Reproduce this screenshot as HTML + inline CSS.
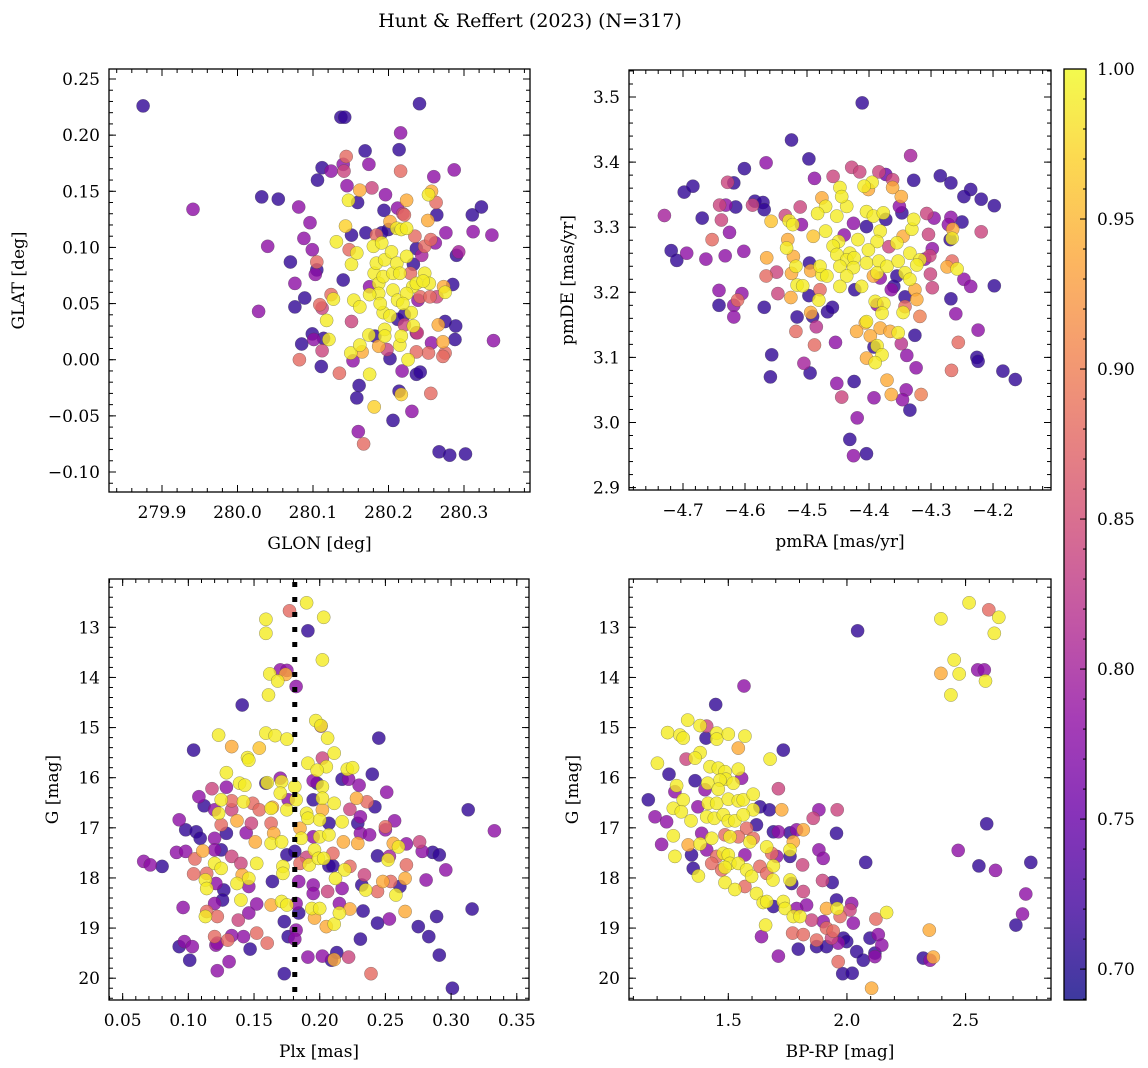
<!DOCTYPE html>
<html><head><meta charset="utf-8"><style>
html,body{margin:0;padding:0;background:#fff;}
svg{display:block;font-family:"DejaVu Serif","Liberation Serif",serif;}
</style></head><body>
<svg id="fig" width="1148" height="1068" viewBox="0 0 1148 1068" xmlns="http://www.w3.org/2000/svg">
<text x="530" y="27" font-size="19" text-anchor="middle">Hunt &amp; Reffert (2023) (N=317)</text>
</svg>
<script>
// ---- Panel 1: GLON vs GLAT ----
const p1Glon=[279.875,279.941,280.028,280.032,280.054,280.040,280.070,280.081,280.096,280.088,280.099,280.076,280.076,280.089,280.082,280.085,280.099,280.101,280.111,280.112,280.114,280.121,280.118,280.112,280.109,280.105,280.103,280.105,280.106,280.112,280.124,280.124,280.127,280.131,280.135,280.137,280.142,280.144,280.140,280.141,280.145,280.140,280.143,280.147,280.151,280.148,280.151,280.151,280.150,280.153,280.161,280.158,280.160,280.167,280.158,280.154,280.162,280.162,280.159,280.162,280.165,280.174,280.175,280.181,280.178,280.174,280.169,280.181,280.175,280.184,280.180,280.184,280.191,280.187,280.187,280.175,280.193,280.195,280.193,280.189,280.182,280.187,280.195,280.195,280.198,280.202,280.202,280.196,280.194,280.202,280.200,280.204,280.206,280.206,280.211,280.215,280.212,280.211,280.217,280.224,280.212,280.224,280.221,280.219,280.216,280.214,280.216,280.241,280.224,280.233,280.229,280.232,280.224,280.230,280.221,280.212,280.219,280.215,280.217,280.221,280.233,280.238,280.239,280.237,280.248,280.254,280.246,280.242,280.255,280.264,280.273,280.275,280.285,280.244,280.248,280.237,280.262,280.256,280.235,280.252,280.264,280.253,280.257,280.263,280.260,280.287,280.276,280.311,280.323,280.312,280.337,280.293,280.290,280.339,280.289,280.288,280.275,280.266,280.272,280.275,280.272,280.257,280.253,280.237,280.237,280.226,280.218,280.237,280.242,280.256,280.214,280.217,280.231,280.206,280.267,280.281,280.302,280.191,280.170];
const p1Glat=[0.226,0.134,0.043,0.145,0.143,0.101,0.087,0.136,0.122,0.108,0.098,0.068,0.047,0.055,0.000,0.014,0.023,0.018,-0.006,0.008,0.019,0.018,0.035,0.046,0.049,0.087,0.076,0.080,0.160,0.171,0.168,0.058,0.054,0.105,-0.012,0.216,0.216,0.181,0.174,0.168,0.155,0.071,0.119,0.142,0.111,0.098,0.085,0.034,0.006,-0.001,-0.023,-0.034,-0.064,-0.075,0.095,0.053,0.047,0.151,0.140,0.013,0.007,0.022,-0.013,-0.042,0.153,0.174,0.186,0.077,0.065,0.111,0.101,0.086,0.104,0.068,0.059,0.058,0.074,0.089,0.042,0.050,0.021,0.012,0.027,0.021,0.009,0.001,0.039,0.147,0.133,0.123,0.116,0.096,0.077,0.062,0.086,0.077,0.053,0.117,0.116,0.117,0.135,0.142,0.129,0.130,0.168,0.187,0.202,0.228,0.092,0.085,0.077,0.065,0.059,0.042,0.040,0.036,0.050,0.013,0.021,0.031,0.030,0.024,0.053,0.068,0.077,0.068,0.070,0.056,0.056,0.056,0.065,0.060,0.067,0.093,0.101,0.099,0.104,0.107,0.110,0.124,0.129,0.147,0.150,0.140,0.163,0.169,0.113,0.129,0.136,0.114,0.111,0.096,0.093,0.017,0.030,0.018,0.034,0.031,0.016,0.006,0.003,0.015,0.006,0.007,0.024,0.000,-0.010,-0.013,-0.011,-0.030,-0.028,-0.031,-0.046,-0.054,-0.082,-0.085,-0.084,0.113,0.113];
const p1Prob=[0.71,0.78,0.78,0.71,0.71,0.78,0.71,0.78,0.78,0.78,0.78,0.78,0.71,0.71,0.88,0.71,0.71,0.78,0.71,0.84,0.71,0.99,0.99,0.84,0.88,0.88,0.78,0.71,0.71,0.71,0.78,0.88,0.99,0.99,0.88,0.71,0.71,0.88,0.78,0.84,0.78,0.71,0.97,0.99,0.71,0.88,0.99,0.84,0.99,0.78,0.71,0.71,0.78,0.88,0.99,0.99,0.99,0.94,0.71,0.99,0.94,0.99,0.99,0.97,0.84,0.78,0.71,0.99,0.78,0.88,0.99,0.99,0.99,0.99,0.99,0.99,0.99,0.99,0.99,0.99,0.71,0.94,0.99,0.99,0.84,0.71,0.99,0.78,0.71,0.94,0.71,0.99,0.99,0.99,0.99,0.99,0.99,0.99,0.99,0.99,0.78,0.94,0.88,0.84,0.88,0.71,0.78,0.71,0.99,0.71,0.88,0.99,0.99,0.99,0.71,0.71,0.99,0.99,0.99,0.84,0.99,0.84,0.78,0.99,0.99,0.99,0.99,0.88,0.88,0.84,0.94,0.99,0.71,0.80,0.88,0.71,0.78,0.88,0.88,0.94,0.71,0.99,0.94,0.88,0.78,0.78,0.78,0.71,0.71,0.78,0.78,0.80,0.71,0.78,0.71,0.71,0.71,0.94,0.94,0.88,0.88,0.78,0.88,0.88,0.78,0.99,0.78,0.71,0.71,0.88,0.71,0.97,0.78,0.71,0.71,0.71,0.71,0.71,0.71];
// ---- Panel 2: pmRA vs pmDE ----
const p2Pmra=[-4.730,-4.698,-4.684,-4.669,-4.719,-4.710,-4.694,-4.663,-4.653,-4.638,-4.641,-4.631,-4.615,-4.628,-4.618,-4.601,-4.566,-4.625,-4.632,-4.602,-4.588,-4.584,-4.571,-4.569,-4.558,-4.535,-4.529,-4.523,-4.509,-4.511,-4.525,-4.497,-4.488,-4.458,-4.447,-4.428,-4.415,-4.411,-4.384,-4.373,-4.362,-4.395,-4.408,-4.401,-4.362,-4.333,-4.328,-4.285,-4.268,-4.236,-4.247,-4.219,-4.198,-4.219,-4.250,-4.268,-4.272,-4.269,-4.265,-4.266,-4.295,-4.307,-4.304,-4.298,-4.302,-4.266,-4.274,-4.258,-4.301,-4.298,-4.247,-4.236,-4.198,-4.268,-4.260,-4.224,-4.256,-4.226,-4.224,-4.267,-4.184,-4.164,-4.318,-4.326,-4.339,-4.324,-4.348,-4.340,-4.346,-4.334,-4.316,-4.364,-4.371,-4.392,-4.424,-4.452,-4.444,-4.419,-4.431,-4.425,-4.404,-4.557,-4.559,-4.505,-4.495,-4.488,-4.454,-4.485,-4.518,-4.516,-4.494,-4.491,-4.467,-4.459,-4.481,-4.497,-4.526,-4.547,-4.569,-4.642,-4.642,-4.618,-4.612,-4.605,-4.618,-4.566,-4.549,-4.565,-4.516,-4.518,-4.525,-4.533,-4.522,-4.531,-4.507,-4.496,-4.494,-4.479,-4.476,-4.479,-4.490,-4.476,-4.470,-4.483,-4.470,-4.452,-4.436,-4.444,-4.449,-4.458,-4.452,-4.440,-4.431,-4.436,-4.424,-4.447,-4.468,-4.425,-4.436,-4.447,-4.423,-4.412,-4.425,-4.418,-4.404,-4.393,-4.377,-4.373,-4.404,-4.382,-4.387,-4.401,-4.404,-4.384,-4.387,-4.371,-4.368,-4.355,-4.345,-4.331,-4.347,-4.348,-4.351,-4.328,-4.334,-4.318,-4.310,-4.323,-4.353,-4.355,-4.342,-4.334,-4.360,-4.382,-4.393,-4.364,-4.326,-4.342,-4.323,-4.342,-4.345,-4.390,-4.376,-4.387,-4.379,-4.404,-4.406,-4.420,-4.382,-4.366,-4.353,-4.398,-4.387,-4.392,-4.379,-4.404,-4.390,-4.392];
const p2Pmde=[3.318,3.354,3.363,3.314,3.264,3.249,3.260,3.251,3.281,3.311,3.334,3.334,3.331,3.369,3.368,3.390,3.399,3.292,3.256,3.263,3.334,3.340,3.338,3.327,3.309,3.318,3.310,3.304,3.304,3.331,3.434,3.405,3.375,3.378,3.361,3.392,3.385,3.491,3.385,3.381,3.373,3.369,3.363,3.358,3.361,3.410,3.372,3.379,3.368,3.358,3.347,3.343,3.333,3.293,3.308,3.315,3.304,3.281,3.297,3.283,3.314,3.321,3.289,3.267,3.256,3.248,3.239,3.236,3.228,3.207,3.220,3.209,3.210,3.190,3.167,3.142,3.123,3.100,3.094,3.080,3.079,3.066,3.163,3.134,3.103,3.084,3.121,3.050,3.035,3.019,3.043,3.043,3.065,3.038,3.063,3.060,3.039,3.007,2.974,2.949,2.952,3.104,3.070,3.091,3.076,3.119,3.123,3.147,3.140,3.162,3.169,3.163,3.170,3.177,3.188,3.195,3.192,3.198,3.177,3.180,3.203,3.180,3.188,3.198,3.162,3.225,3.231,3.253,3.211,3.240,3.229,3.268,3.255,3.281,3.210,3.245,3.233,3.204,3.227,3.240,3.286,3.345,3.332,3.321,3.294,3.317,3.332,3.347,3.278,3.271,3.258,3.288,3.260,3.250,3.253,3.240,3.225,3.238,3.225,3.209,3.204,3.209,3.306,3.281,3.324,3.317,3.322,3.312,3.301,3.294,3.278,3.265,3.245,3.248,3.230,3.240,3.270,3.276,3.286,3.297,3.322,3.347,3.332,3.312,3.260,3.250,3.251,3.242,3.248,3.225,3.230,3.220,3.209,3.222,3.225,3.204,3.204,3.193,3.189,3.178,3.169,3.186,3.183,3.181,3.168,3.155,3.153,3.140,3.145,3.140,3.138,3.133,3.118,3.116,3.104,3.099,3.092,3.095];
const p2Prob=[0.80,0.71,0.71,0.71,0.71,0.71,0.78,0.78,0.88,0.84,0.84,0.78,0.71,0.84,0.71,0.71,0.78,0.78,0.78,0.78,0.84,0.71,0.71,0.71,0.96,0.84,0.99,0.99,0.78,0.84,0.71,0.71,0.78,0.84,0.99,0.84,0.84,0.71,0.84,0.75,0.84,0.99,0.99,0.94,0.94,0.80,0.71,0.71,0.71,0.71,0.71,0.71,0.71,0.84,0.71,0.78,0.78,0.71,0.94,0.99,0.78,0.84,0.84,0.78,0.84,0.88,0.94,0.99,0.84,0.84,0.78,0.78,0.71,0.71,0.78,0.78,0.88,0.71,0.71,0.88,0.71,0.71,0.90,0.71,0.78,0.78,0.82,0.78,0.78,0.71,0.90,0.94,0.94,0.78,0.71,0.78,0.84,0.78,0.71,0.78,0.71,0.71,0.71,0.80,0.71,0.88,0.78,0.82,0.88,0.71,0.94,0.71,0.71,0.71,0.99,0.71,0.94,0.84,0.71,0.71,0.78,0.78,0.88,0.78,0.78,0.88,0.84,0.94,0.99,0.99,0.94,0.99,0.94,0.94,0.99,0.71,0.94,0.88,0.99,0.99,0.96,0.94,0.99,0.99,0.99,0.99,0.99,0.99,0.99,0.99,0.99,0.78,0.99,0.99,0.99,0.99,0.99,0.99,0.99,0.99,0.71,0.99,0.78,0.99,0.99,0.99,0.99,0.71,0.71,0.99,0.99,0.99,0.99,0.99,0.99,0.99,0.84,0.99,0.94,0.99,0.71,0.94,0.78,0.99,0.99,0.99,0.78,0.99,0.99,0.71,0.99,0.99,0.71,0.78,0.94,0.78,0.94,0.71,0.94,0.88,0.99,0.99,0.99,0.78,0.99,0.99,0.94,0.94,0.94,0.94,0.99,0.94,0.99,0.71,0.99,0.94,0.99];
// ---- Panel 3: Plx vs G ----
const p3Plx=[0.190,0.177,0.159,0.203,0.159,0.191,0.202,0.162,0.168,0.170,0.175,0.174,0.182,0.161,0.141,0.197,0.201,0.201,0.206,0.159,0.166,0.175,0.123,0.133,0.154,0.145,0.146,0.104,0.245,0.211,0.191,0.202,0.205,0.198,0.221,0.225,0.222,0.217,0.230,0.240,0.251,0.129,0.139,0.143,0.129,0.118,0.108,0.112,0.125,0.133,0.142,0.149,0.120,0.123,0.133,0.137,0.154,0.159,0.160,0.170,0.171,0.170,0.181,0.182,0.163,0.164,0.175,0.176,0.190,0.191,0.195,0.198,0.202,0.202,0.195,0.211,0.202,0.200,0.207,0.217,0.228,0.236,0.242,0.223,0.231,0.229,0.231,0.257,0.250,0.250,0.093,0.098,0.106,0.109,0.129,0.144,0.148,0.151,0.120,0.125,0.163,0.165,0.163,0.171,0.185,0.186,0.195,0.200,0.207,0.218,0.229,0.238,0.260,0.256,0.266,0.276,0.278,0.286,0.291,0.296,0.313,0.333,0.066,0.071,0.080,0.091,0.098,0.111,0.105,0.120,0.125,0.133,0.140,0.120,0.125,0.104,0.114,0.113,0.114,0.121,0.137,0.141,0.146,0.152,0.146,0.164,0.172,0.172,0.175,0.181,0.185,0.190,0.192,0.196,0.199,0.203,0.210,0.207,0.210,0.219,0.223,0.212,0.184,0.195,0.206,0.217,0.234,0.244,0.253,0.252,0.266,0.265,0.254,0.248,0.232,0.235,0.244,0.258,0.261,0.281,0.195,0.096,0.127,0.126,0.140,0.120,0.114,0.113,0.122,0.138,0.146,0.152,0.163,0.171,0.175,0.182,0.184,0.194,0.200,0.196,0.205,0.211,0.215,0.215,0.223,0.233,0.244,0.253,0.265,0.289,0.275,0.283,0.316,0.173,0.176,0.182,0.181,0.152,0.160,0.147,0.142,0.133,0.130,0.120,0.121,0.122,0.097,0.093,0.103,0.101,0.122,0.131,0.173,0.191,0.202,0.209,0.213,0.211,0.222,0.231,0.239,0.291,0.301];
const p3G=[12.51,12.67,12.84,12.80,13.12,13.07,13.65,13.93,14.07,13.85,13.86,13.94,14.18,14.35,14.55,14.86,14.96,14.97,15.21,15.11,15.16,15.23,15.15,15.38,15.41,15.60,15.65,15.45,15.21,15.51,15.71,15.61,15.78,15.85,15.83,15.80,16.03,16.03,16.15,15.93,16.29,15.90,16.11,16.15,16.19,16.22,16.38,16.56,16.44,16.46,16.48,16.51,16.64,16.71,16.64,16.86,16.64,16.11,16.10,16.01,16.08,16.31,16.18,16.44,16.61,16.59,16.64,16.44,16.71,16.81,16.06,16.11,16.18,16.41,16.44,16.51,16.64,16.84,16.91,16.88,16.41,16.48,16.58,16.63,16.78,16.91,17.11,16.86,16.98,17.04,16.84,17.04,17.08,17.21,17.11,17.10,16.91,17.28,17.21,16.94,16.91,17.11,17.31,17.28,17.01,17.21,17.18,17.18,17.14,17.28,17.31,17.14,17.38,17.31,17.32,17.28,17.47,17.49,17.54,17.84,16.64,17.06,17.67,17.74,17.77,17.49,17.47,17.46,17.62,17.44,17.44,17.57,17.71,17.71,17.81,17.92,17.91,18.04,18.21,18.11,18.11,17.94,18.01,17.71,18.17,18.07,17.77,17.91,17.54,17.47,17.71,17.59,17.74,17.44,17.61,17.61,17.51,17.76,17.76,17.84,17.77,18.01,18.07,18.14,18.27,18.21,17.94,17.56,17.57,17.64,17.74,18.01,18.07,18.07,18.14,18.24,18.27,18.34,18.17,18.04,18.31,18.59,18.24,18.44,18.44,18.51,18.67,18.77,18.77,18.84,18.70,18.52,18.54,18.47,18.54,18.51,18.70,18.61,18.61,18.80,18.97,18.92,18.70,18.51,18.62,18.66,18.90,18.82,18.67,18.77,18.97,19.17,18.62,18.87,19.17,19.04,19.22,19.10,19.30,19.42,19.17,19.15,19.24,19.17,19.34,19.30,19.27,19.37,19.37,19.64,19.85,19.67,19.91,19.58,19.56,19.64,19.49,19.63,19.58,19.22,19.91,19.54,20.20];
const p3Prob=[0.99,0.88,0.99,0.99,0.99,0.71,0.99,0.99,0.99,0.78,0.78,0.94,0.78,0.99,0.71,0.99,0.99,0.84,0.99,0.99,0.99,0.99,0.99,0.94,0.96,0.99,0.99,0.71,0.71,0.99,0.99,0.84,0.99,0.99,0.99,0.99,0.78,0.71,0.78,0.71,0.78,0.99,0.99,0.99,0.78,0.84,0.78,0.71,0.99,0.88,0.99,0.88,0.78,0.99,0.84,0.94,0.88,0.71,0.99,0.78,0.99,0.99,0.99,0.99,0.99,0.94,0.99,0.78,0.99,0.99,0.78,0.71,0.99,0.99,0.71,0.99,0.94,0.99,0.71,0.99,0.94,0.88,0.71,0.84,0.78,0.71,0.78,0.78,0.88,0.78,0.78,0.71,0.71,0.71,0.71,0.78,0.84,0.94,0.78,0.88,0.88,0.94,0.99,0.99,0.94,0.99,0.78,0.99,0.99,0.94,0.94,0.78,0.99,0.94,0.78,0.84,0.78,0.71,0.71,0.78,0.71,0.78,0.78,0.78,0.71,0.78,0.78,0.94,0.88,0.78,0.71,0.84,0.84,0.99,0.99,0.88,0.88,0.99,0.99,0.78,0.99,0.94,0.99,0.99,0.78,0.71,0.99,0.99,0.71,0.71,0.88,0.84,0.99,0.99,0.99,0.99,0.88,0.71,0.71,0.99,0.88,0.99,0.78,0.78,0.84,0.78,0.84,0.71,0.80,0.99,0.88,0.94,0.88,0.94,0.71,0.99,0.88,0.99,0.71,0.78,0.78,0.78,0.71,0.71,0.99,0.78,0.88,0.99,0.88,0.84,0.78,0.78,0.94,0.99,0.99,0.78,0.71,0.99,0.99,0.94,0.94,0.99,0.99,0.78,0.94,0.71,0.71,0.78,0.94,0.71,0.71,0.71,0.71,0.71,0.71,0.78,0.78,0.88,0.88,0.71,0.78,0.78,0.88,0.88,0.78,0.78,0.78,0.71,0.78,0.71,0.78,0.78,0.71,0.78,0.78,0.71,0.71,0.94,0.84,0.71,0.88,0.71,0.71];
// ---- Panel 4: BP-RP vs G ----
const p4Bprp=[2.515,2.598,2.640,2.396,2.621,2.045,2.452,2.396,2.473,2.551,2.579,2.584,2.438,1.566,1.447,1.329,1.244,1.296,1.310,1.381,1.409,1.406,1.451,1.451,1.500,1.570,1.542,1.732,1.676,1.381,1.360,1.322,1.201,1.250,1.360,1.423,1.458,1.486,1.542,1.556,1.490,1.521,1.465,1.413,1.282,1.275,1.402,1.458,1.711,1.163,1.310,1.268,1.302,1.372,1.415,1.451,1.500,1.542,1.563,1.605,1.633,1.605,1.673,1.725,1.882,1.959,1.858,1.191,1.240,1.343,1.409,1.441,1.479,1.500,1.528,1.563,1.619,1.577,1.690,1.711,1.788,1.760,1.816,1.956,2.589,1.268,1.219,1.331,1.381,1.388,1.430,1.486,1.507,1.542,1.591,1.605,1.662,1.683,1.704,1.760,1.774,1.760,1.882,1.900,1.813,2.079,2.469,2.556,2.626,2.775,1.275,1.345,1.409,1.451,1.479,1.500,1.507,1.486,1.542,1.570,1.577,1.598,1.633,1.690,1.662,1.688,1.352,1.374,1.430,1.472,1.486,1.528,1.570,1.619,1.647,1.662,1.690,1.760,1.767,1.816,1.897,1.938,1.732,1.739,1.774,1.802,1.830,1.788,1.851,1.956,1.914,1.959,2.020,2.013,1.971,2.167,2.122,1.657,1.640,1.771,1.816,1.900,1.914,1.942,1.935,1.872,1.872,1.914,1.963,1.985,1.999,2.027,2.097,2.132,2.147,2.041,2.069,2.118,2.118,1.795,1.711,1.963,1.982,2.022,2.104,2.347,2.322,2.350,2.364,2.712,2.740,2.754,2.708];
const p4G=[12.51,12.65,12.80,12.83,13.12,13.07,13.65,13.92,13.93,13.85,13.85,14.07,14.35,14.17,14.54,14.85,15.10,15.15,15.21,14.96,14.97,15.21,15.11,15.23,15.13,15.17,15.41,15.45,15.63,15.50,15.61,15.63,15.71,15.93,16.06,15.78,15.81,15.88,15.83,16.01,16.03,16.11,16.05,16.11,16.16,16.28,16.24,16.23,16.22,16.44,16.44,16.61,16.68,16.58,16.51,16.51,16.43,16.46,16.44,16.33,16.58,16.64,16.64,16.64,16.64,16.64,16.81,16.78,16.88,16.86,16.78,16.81,16.74,16.86,16.86,16.74,16.94,17.01,17.08,17.08,17.04,17.10,17.04,17.11,16.92,17.16,17.33,17.34,17.32,17.11,17.21,17.14,17.18,17.18,17.28,17.21,17.38,17.51,17.57,17.44,17.28,17.57,17.44,17.61,17.74,17.69,17.45,17.76,17.85,17.69,17.57,17.54,17.44,17.57,17.51,17.54,17.71,17.79,17.71,17.54,17.84,17.97,17.77,17.76,17.91,18.04,17.81,17.96,17.71,17.84,18.09,18.23,18.17,18.31,18.49,18.47,18.57,18.04,18.11,18.27,18.05,18.09,18.47,18.61,18.77,18.77,18.54,18.61,18.84,18.44,18.61,18.61,18.51,18.64,18.77,18.69,18.82,18.94,19.17,19.10,19.13,18.87,19.00,19.06,19.20,19.24,19.37,19.37,19.30,19.20,19.27,18.90,19.20,19.13,19.34,19.47,19.64,19.57,19.50,19.42,19.56,19.67,19.91,19.90,20.20,19.04,19.60,19.64,19.58,18.94,18.72,18.32,19.86];
const p4Prob=[0.99,0.88,0.99,0.99,0.99,0.71,0.99,0.94,0.99,0.78,0.78,0.99,0.99,0.78,0.71,0.99,0.99,0.99,0.99,0.99,0.84,0.71,0.99,0.99,0.99,0.99,0.94,0.71,0.99,0.99,0.99,0.84,0.99,0.71,0.71,0.99,0.99,0.99,0.99,0.78,0.99,0.99,0.99,0.99,0.99,0.78,0.78,0.99,0.84,0.71,0.99,0.99,0.99,0.78,0.99,0.99,0.99,0.99,0.99,0.99,0.71,0.99,0.71,0.94,0.78,0.84,0.84,0.78,0.78,0.99,0.99,0.99,0.99,0.99,0.99,0.99,0.71,0.88,0.71,0.78,0.78,0.71,0.94,0.71,0.71,0.99,0.78,0.94,0.99,0.78,0.99,0.88,0.99,0.88,0.99,0.88,0.99,0.88,0.78,0.99,0.94,0.71,0.78,0.78,0.84,0.71,0.78,0.71,0.78,0.71,0.99,0.71,0.78,0.88,0.99,0.99,0.99,0.99,0.99,0.78,0.99,0.99,0.88,0.99,0.88,0.99,0.71,0.99,0.88,0.88,0.99,0.99,0.88,0.99,0.99,0.99,0.71,0.99,0.71,0.84,0.84,0.71,0.99,0.99,0.99,0.99,0.78,0.78,0.84,0.71,0.94,0.99,0.78,0.84,0.88,0.99,0.88,0.99,0.78,0.88,0.88,0.78,0.88,0.88,0.84,0.88,0.71,0.71,0.78,0.71,0.71,0.78,0.71,0.78,0.78,0.71,0.71,0.78,0.71,0.71,0.78,0.88,0.71,0.71,0.94,0.94,0.71,0.78,0.94,0.71,0.78,0.78];
// ---- Colorbar ticks ----
const cbTicks=[0.70,0.75,0.80,0.85,0.90,0.95,1.00];
const plxLine=0.181;

const NS='http://www.w3.org/2000/svg';
const svg=document.getElementById('fig');
const VMIN=0.6897, VMAX=1.0;
const PL=[[13,8,135],[65,4,157],[106,0,168],[143,13,164],[177,42,144],[204,71,120],[225,100,98],[242,132,75],[252,166,54],[252,206,37],[240,249,33]];
function plasma(t){t=Math.max(0,Math.min(1,t));const f=t*10,i=Math.min(9,Math.floor(f)),u=f-i;const a=PL[i],b=PL[i+1];return 'rgb('+a.map((v,k)=>Math.round(v+(b[k]-v)*u)).join(',')+')';}
function el(tag,attrs,parent){const e=document.createElementNS(NS,tag);for(const k in attrs)e.setAttribute(k,attrs[k]);(parent||svg).appendChild(e);return e;}
function fmtMinus(s){return s.replace('-','\u2212');}

function panel(cfg,xs,ys,ps){
  const g=el('g',{});
  
  
  const sx=v=>cfg.x0+(v-cfg.xd[0])/(cfg.xd[1]-cfg.xd[0])*(cfg.x1-cfg.x0);
  const sy=v=>cfg.y0+(v-cfg.yd[0])/(cfg.yd[1]-cfg.yd[0])*(cfg.y1-cfg.y0);
  const clip='clip-'+cfg.name;
  const cp=el('clipPath',{id:clip},g);el('rect',{x:cfg.x0,y:cfg.y0,width:cfg.x1-cfg.x0,height:cfg.y1-cfg.y0},cp);
  const pg=el('g',{'clip-path':'url(#'+clip+')'},g);
  
  
  const idx=ps.map((p,i)=>i).sort((a,b)=>ps[a]-ps[b]);
  idx.forEach(i=>{
    const c=el('circle',{cx:sx(xs[i]).toFixed(1),cy:sy(ys[i]).toFixed(1),r:6.6,fill:plasma((ps[i]-VMIN)/(VMAX-VMIN)),'fill-opacity':0.8,stroke:'rgba(70,70,70,0.55)','stroke-width':0.5},pg);
    
    
  });
  if(cfg.vline!==undefined){
    const ln=el('line',{x1:sx(cfg.vline),x2:sx(cfg.vline),y1:cfg.y0+3,y2:cfg.y1,stroke:'#000','stroke-width':5,'stroke-dasharray':'5 10'},pg);
    
    
  }
  // ticks
  const tg=el('g',{stroke:'#000','stroke-width':1},g);
  const lo=Math.min(...cfg.xd),hi=Math.max(...cfg.xd);
  for(let v=Math.ceil(lo/cfg.xmin-1e-6)*cfg.xmin;v<=hi+1e-9;v+=cfg.xmin){const x=sx(v);el('line',{x1:x,x2:x,y1:cfg.y1,y2:cfg.y1-4},tg);el('line',{x1:x,x2:x,y1:cfg.y0,y2:cfg.y0+4},tg);}
  const ylo=Math.min(...cfg.yd),yhi=Math.max(...cfg.yd);
  for(let v=Math.ceil(ylo/cfg.ymin-1e-6)*cfg.ymin;v<=yhi+1e-9;v+=cfg.ymin){const y=sy(v);el('line',{x1:cfg.x0,x2:cfg.x0+4,y1:y,y2:y},tg);el('line',{x1:cfg.x1,x2:cfg.x1-4,y1:y,y2:y},tg);}
  cfg.xt.forEach(v=>{const x=sx(v);el('line',{x1:x,x2:x,y1:cfg.y1,y2:cfg.y1-7},tg);el('line',{x1:x,x2:x,y1:cfg.y0,y2:cfg.y0+7},tg);
    const t=el('text',{x:x,y:cfg.y1+26,'font-size':17,'text-anchor':'middle'},g);t.textContent=fmtMinus(v.toFixed(cfg.xdec));
    });
  cfg.yt.forEach(v=>{const y=sy(v);el('line',{x1:cfg.x0,x2:cfg.x0+7,y1:y,y2:y},tg);el('line',{x1:cfg.x1,x2:cfg.x1-7,y1:y,y2:y},tg);
    const t=el('text',{x:cfg.x0-9,y:y+6,'font-size':17,'text-anchor':'end'},g);t.textContent=fmtMinus(v.toFixed(cfg.ydec));
    });
  const fr=el('rect',{x:cfg.x0,y:cfg.y0,width:cfg.x1-cfg.x0,height:cfg.y1-cfg.y0,fill:'none',stroke:'#000','stroke-width':1.3},g);
  
  const xl=el('text',{x:(cfg.x0+cfg.x1)/2,y:cfg.y1+57,'font-size':17,'text-anchor':'middle'},g);xl.textContent=cfg.xlabel;
  
  const yc=(cfg.y0+cfg.y1)/2;
  const yl=el('text',{x:cfg.ylx,y:yc,'font-size':17,'text-anchor':'middle',transform:'rotate(-90 '+cfg.ylx+' '+yc+')'},g);yl.textContent=cfg.ylabel;
  
}

panel({name:'panel-glon-glat',x0:109,x1:530,y0:69,y1:492,xd:[279.8298,280.3874],yd:[0.2589,-0.1178],
  xt:[279.9,280.0,280.1,280.2,280.3],yt:[0.25,0.20,0.15,0.10,0.05,0.00,-0.05,-0.10],xdec:1,ydec:2,xmin:0.02,ymin:0.01,
  xlabel:'GLON [deg]',ylabel:'GLAT [deg]',ylx:24},p1Glon,p1Glat,p1Prob);
panel({name:'panel-pmra-pmde',x0:629,x1:1051,y0:70,y1:490,xd:[-4.7871,-4.1065],yd:[3.5415,2.8963],
  xt:[-4.7,-4.6,-4.5,-4.4,-4.3,-4.2],yt:[3.5,3.4,3.3,3.2,3.1,3.0,2.9],xdec:1,ydec:1,xmin:0.02,ymin:0.02,
  xlabel:'pmRA [mas/yr]',ylabel:'pmDE [mas/yr]',ylx:573},p2Pmra,p2Pmde,p2Prob);
panel({name:'panel-plx-g',x0:109,x1:529,y0:579,y1:1000,xd:[0.0396,0.3593],yd:[12.036,20.435],
  xt:[0.05,0.10,0.15,0.20,0.25,0.30,0.35],yt:[13,14,15,16,17,18,19,20],xdec:2,ydec:0,xmin:0.01,ymin:0.2,
  xlabel:'Plx [mas]',ylabel:'G [mag]',ylx:58,vline:plxLine},p3Plx,p3G,p3Prob);
panel({name:'panel-bprp-g',x0:629,x1:1051,y0:579,y1:1000,xd:[1.0815,2.860],yd:[12.036,20.435],
  xt:[1.5,2.0,2.5],yt:[13,14,15,16,17,18,19,20],xdec:1,ydec:0,xmin:0.1,ymin:0.2,
  xlabel:'BP-RP [mag]',ylabel:'G [mag]',ylx:578},p4Bprp,p4G,p4Prob);

// colorbar
(function(){
  const x0=1064,x1=1086,y0=69,y1=1000;
  const g=el('g',{});
  
  
  const defs=el('defs',{},g);
  const lg=el('linearGradient',{id:'cbgrad',x1:0,y1:1,x2:0,y2:0},defs);
  for(let i=0;i<=20;i++){const t=i/20;el('stop',{offset:t,'stop-color':plasma(t),'stop-opacity':0.8},lg);}
  el('rect',{x:x0,y:y0,width:x1-x0,height:y1-y0,fill:'url(#cbgrad)'},g);
  const sy=v=>y1-(v-VMIN)/(VMAX-VMIN)*(y1-y0);
  for(let v=0.69;v<=1.0001;v+=0.01){const y=sy(v);el('line',{x1:x1,x2:x1-3,y1:y,y2:y,stroke:'#000','stroke-width':1},g);}
  cbTicks.forEach(v=>{const y=sy(v);el('line',{x1:x1,x2:x1-6,y1:y,y2:y,stroke:'#000','stroke-width':1},g);
    const t=el('text',{x:x1+11,y:y+6,'font-size':17},g);t.textContent=v.toFixed(2);
    });
  el('rect',{x:x0,y:y0,width:x1-x0,height:y1-y0,fill:'none',stroke:'#000','stroke-width':1.3},g);
})();
</script>
</body></html>
